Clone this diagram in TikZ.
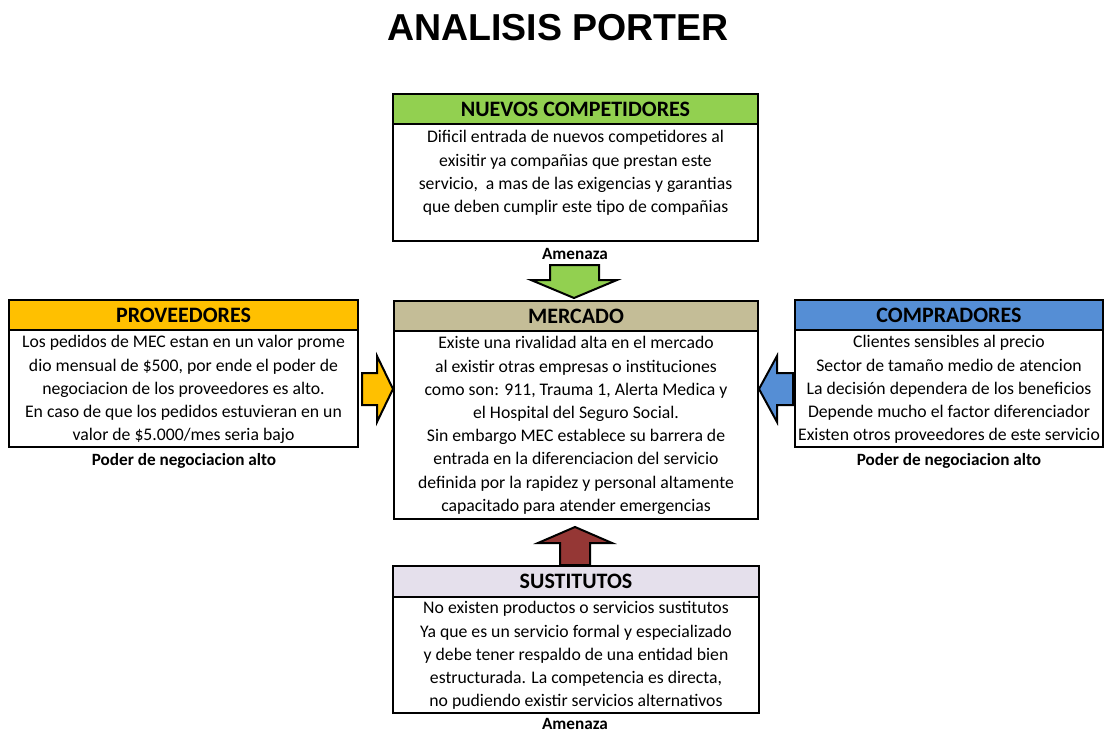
\documentclass[tikz,border=0pt]{standalone}
\usepackage{fontspec}
\setmainfont{Carlito}
\newfontfamily\titlefont{Liberation Sans}
\usetikzlibrary{calc}
\definecolor{hgreen}{HTML}{92D050}
\definecolor{hyellow}{HTML}{FFC000}
\definecolor{hblue}{HTML}{558ED5}
\definecolor{htan}{HTML}{C4BD97}
\definecolor{hlav}{HTML}{E5E0EC}
\definecolor{hred}{HTML}{953735}
\begin{document}
\begin{tikzpicture}[x=1pt,y=-1pt,
  box/.style={draw=black, line width=2.8pt, inner sep=0pt, outer sep=0pt, anchor=north west},
  hdr/.style={font=\fontsize{22}{24}\selectfont\bfseries},
  body/.style={font=\fontsize{17.7}{23.2}\selectfont, align=center, inner sep=0pt, anchor=north},
  lbl/.style={font=\fontsize{17.2}{20}\selectfont\bfseries, inner sep=0pt},
  barrow/.style={draw=black, line width=2pt, line join=miter, miter limit=20}]
\useasboundingbox (0,0) rectangle (1109,733);

\node[font=\titlefont\fontsize{37.5}{40}\selectfont\bfseries, inner sep=0pt] (title) at (558,28) {ANALISIS PORTER};

% NUEVOS COMPETIDORES
\node[box, hdr, fill=hgreen, minimum width=365pt, minimum height=30pt] (nuevosH) at (393,94) {NUEVOS COMPETIDORES};
\node[box, fill=white, minimum width=365pt, minimum height=117pt] (nuevosB) at (393,124) {};
\node[body] (nuevosX) at ($(nuevosB.north)+(0,6.5)$) {Dificil entrada de nuevos competidores al\\exisitir ya compañias que prestan este\\servicio,\ \ a mas de las exigencias y garantias\\que deben cumplir este tipo de compañias};
\node[lbl] (amen1) at (575,254) {Amenaza};

% MERCADO
\node[box, hdr, fill=htan, minimum width=364pt, minimum height=30pt] (mercH) at (394,301) {MERCADO};
\node[box, fill=white, minimum width=364pt, minimum height=188pt] (mercB) at (394,331) {};
\node[body] (mercX) at ($(mercB.north)+(0,5.5)$) {Existe una rivalidad alta en el mercado\\al existir otras empresas o instituciones\\como son: 911, Trauma 1, Alerta Medica y\\el Hospital del Seguro Social.\\Sin embargo MEC establece su barrera de\\entrada en la diferenciacion del servicio\\definida por la rapidez y personal altamente\\capacitado para atender emergencias};

% PROVEEDORES
\node[box, hdr, fill=hyellow, minimum width=349pt, minimum height=30pt] (provH) at (9,300) {PROVEEDORES};
\node[box, fill=white, minimum width=349pt, minimum height=117pt] (provB) at (9,330) {};
\node[body] (provX) at ($(provB.north)+(0,5.5)$) {Los pedidos de MEC estan en un valor prome\\dio mensual de \$500, por ende el poder de\\negociacion de los proveedores es alto.\\En caso de que los pedidos estuvieran en un\\valor de \$5.000/mes seria bajo};
\node[lbl] (poder1) at (184,461) {Poder de negociacion alto};

% COMPRADORES
\node[box, hdr, fill=hblue, minimum width=308pt, minimum height=30pt] (compH) at (795,300) {COMPRADORES};
\node[box, fill=white, minimum width=308pt, minimum height=117pt] (compB) at (795,330) {};
\node[body] (compX) at ($(compB.north)+(0,5.5)$) {Clientes sensibles al precio\\Sector de tamaño medio de atencion\\La decisión dependera de los beneficios\\Depende mucho el factor diferenciador\\Existen otros proveedores de este servicio};
\node[lbl] (poder2) at (949,461) {Poder de negociacion alto};

% SUSTITUTOS
\node[box, hdr, fill=hlav, minimum width=366pt, minimum height=31pt] (sustH) at (393,566) {SUSTITUTOS};
\node[box, fill=white, minimum width=366pt, minimum height=116pt] (sustB) at (393,597) {};
\node[body] (sustX) at ($(sustB.north)+(0,4.5)$) {No existen productos o servicios sustitutos\\Ya que es un servicio formal y especializado\\y debe tener respaldo de una entidad bien\\estructurada. La competencia es directa,\\no pudiendo existir servicios alternativos};
\node[lbl] (amen2) at (575,723.5) {Amenaza};

% Block arrows
\draw[barrow, fill=hgreen] (550,265) -- (599,265) -- (599,280) -- (617,280) -- (574,298) -- (531,280) -- (550,280) -- cycle;
\draw[barrow, fill=hred] (560,565) -- (590,565) -- (590,543) -- (612,543) -- (575,527) -- (538,543) -- (560,543) -- cycle;
\draw[barrow, fill=hyellow] (362,373) -- (377,373) -- (377,356) -- (393,389) -- (377,422) -- (377,405) -- (362,405) -- cycle;
\draw[barrow, fill=hblue] (793,373) -- (777,373) -- (777,356) -- (759,389) -- (777,422) -- (777,405) -- (793,405) -- cycle;
\end{tikzpicture}
\end{document}
